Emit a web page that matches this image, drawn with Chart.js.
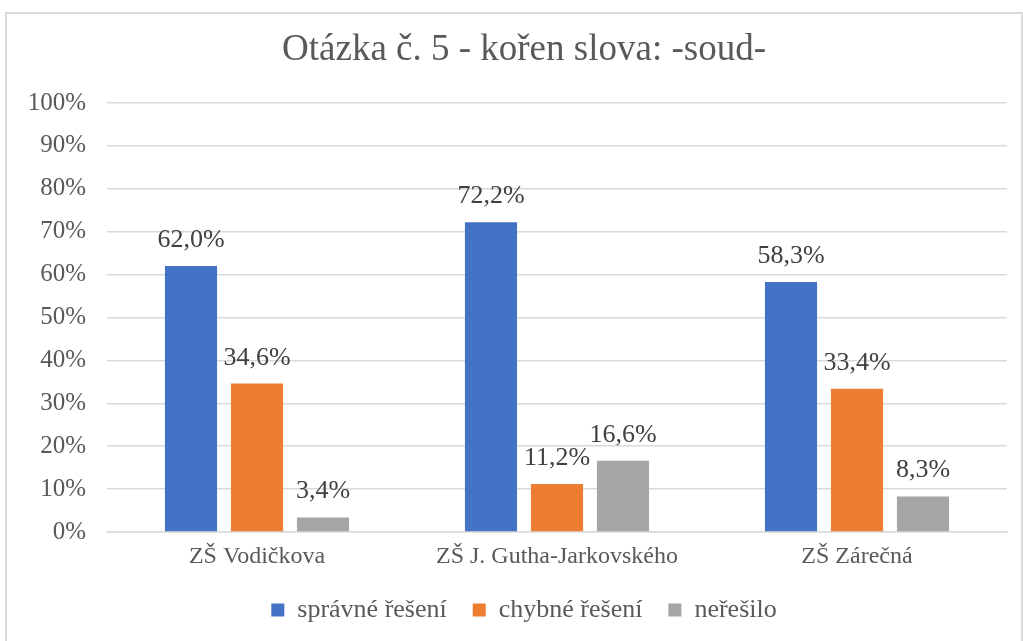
<!DOCTYPE html>
<html>
<head>
<meta charset="utf-8">
<script src="https://cdn.jsdelivr.net/npm/chart.js@4/dist/chart.umd.min.js"></script>
<style>
html,body{margin:0;padding:0;background:#fff;}
#wrap{position:relative;width:1023px;height:641px;}
</style>
</head>
<body>
<div id="wrap"><canvas id="c" width="1023" height="641"></canvas></div>
<script>
const titleText = 'Otázka č. 5 - kořen slova: -soud-';
const categories = ['ZŠ Vodičkova', 'ZŠ J. Gutha-Jarkovského', 'ZŠ Zárečná'];
const seriesNames = ['správné řešení', 'chybné řešení', 'neřešilo'];
const spravne = [62.0, 72.2, 58.3];
const chybne = [34.6, 11.2, 33.4];
const neresilo = [3.4, 16.6, 8.3];
const seriesColors = ['#4472C4', '#ED7D31', '#A5A5A5'];
const FONT = "'Liberation Serif', 'Times New Roman', serif";

const borderPlugin = {
  id: 'border',
  beforeDraw(chart) {
    const ctx = chart.ctx;
    ctx.save();
    ctx.fillStyle = '#fff';
    ctx.fillRect(0, 0, chart.width, chart.height);
    ctx.strokeStyle = '#D9D9D9';
    ctx.lineWidth = 2;
    ctx.strokeRect(6, 13, 1016, 700);
    ctx.restore();
  }
};

const labelPlugin = {
  id: 'valueLabels',
  afterDatasetsDraw(chart) {
    const ctx = chart.ctx;
    ctx.save();
    ctx.font = '26px ' + FONT;
    ctx.fillStyle = '#404040';
    ctx.textAlign = 'center';
    ctx.textBaseline = 'alphabetic';
    chart.data.datasets.forEach((ds, i) => {
      const meta = chart.getDatasetMeta(i);
      meta.data.forEach((bar, j) => {
        const v = ds.data[j];
        const txt = v.toFixed(1).replace('.', ',') + '%';
        ctx.fillText(txt, bar.x, bar.y - 19);
      });
    });
    ctx.restore();
  }
};

new Chart(document.getElementById('c'), {
  type: 'bar',
  data: {
    labels: categories,
    datasets: [
      { label: seriesNames[0], data: spravne, backgroundColor: seriesColors[0] },
      { label: seriesNames[1], data: chybne, backgroundColor: seriesColors[1] },
      { label: seriesNames[2], data: neresilo, backgroundColor: seriesColors[2] }
    ]
  },
  options: {
    responsive: false,
    animation: false,
    devicePixelRatio: 1,
    layout: { padding: { left: 0, right: -25, top: 0, bottom: 8 } },
    datasets: { bar: { categoryPercentage: 0.66, barPercentage: 0.79 } },
    plugins: {
      title: {
        display: true,
        text: titleText,
        color: '#595959',
        font: { family: FONT, size: 37, weight: 'normal', lineHeight: 1.2 },
        padding: { top: 28, bottom: 30.6 }
      },
      legend: {
        position: 'bottom',
        labels: {
          color: '#595959',
          font: { family: FONT, size: 26 },
          boxWidth: 13,
          boxHeight: 13,
          padding: 26
        }
      },
      tooltip: { enabled: false }
    },
    scales: {
      x: {
        afterFit(scale) { scale.height = 39; },
        grid: { display: false, drawTicks: false },
        border: { display: true, color: '#D9D9D9', width: 1.5 },
        ticks: { color: '#595959', font: { family: FONT, size: 24 }, padding: 10 }
      },
      y: {
        min: 0, max: 100,
        afterFit(scale) { scale.width = 107; },
        grid: { color: '#D9D9D9', lineWidth: 1.5, drawTicks: false },
        border: { display: false },
        ticks: {
          stepSize: 10,
          color: '#595959',
          font: { family: FONT, size: 25 },
          padding: 21,
          callback: v => v + '%'
        }
      },
      yRight: {
        type: 'linear',
        position: 'right',
        display: true,
        afterFit(scale) { scale.width = 41; },
        grid: { display: false, drawTicks: false },
        border: { display: false },
        ticks: { display: false }
      }
    }
  },
  plugins: [borderPlugin, labelPlugin]
});
</script>
</body>
</html>
